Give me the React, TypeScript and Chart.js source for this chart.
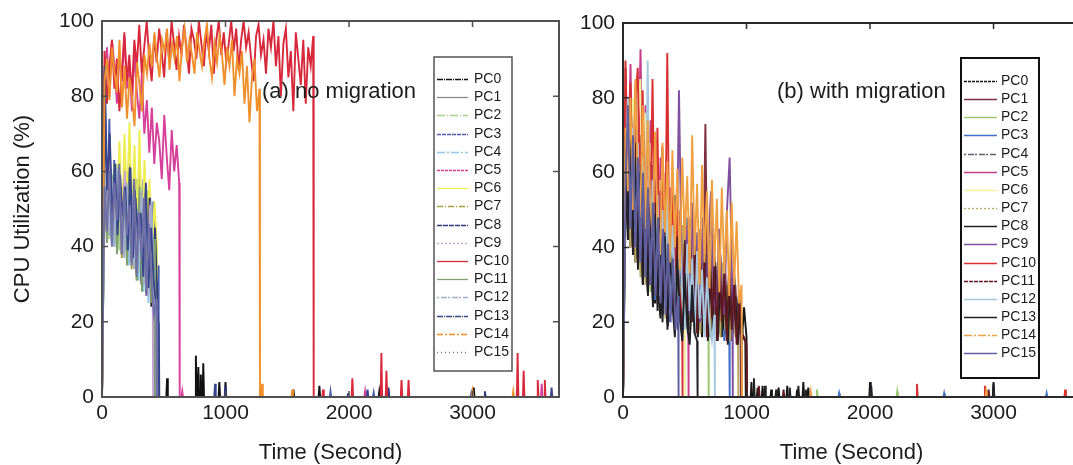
import React, { useEffect, useRef } from 'react';
import { Chart, registerables } from 'chart.js';
Chart.register(...registerables);

// ---------- axes ----------
const X_MAX = 3700;
const xTicks = [0, 1000, 2000, 3000];
const yTicks = [0, 20, 40, 60, 80, 100];
const seriesNames = ['PC0', 'PC1', 'PC2', 'PC3', 'PC4', 'PC5', 'PC6', 'PC7', 'PC8', 'PC9', 'PC10', 'PC11', 'PC12', 'PC13', 'PC14', 'PC15'];

// ---------- panel (a) no migration: active-phase samples (evenly spaced from 0 to end time) ----------
const a0 = [0, 62, 44, 60, 41, 58, 46, 63, 38, 57, 42, 55, 36, 59, 33, 52, 30, 56, 27, 50, 24, 47, 20];
const a1 = [0, 70, 47, 66, 43, 61, 40, 58, 45, 64, 37, 53, 41, 57, 34, 60, 31, 48, 29, 54, 25, 44];
const a2 = [0, 55, 64, 42, 59, 48, 62, 39, 56, 44, 60, 36, 51, 43, 58, 33, 49, 38, 55, 28, 46, 24, 40];
const a3 = [0, 66, 45, 74, 43, 63, 41, 60, 47, 57, 39, 62, 36, 55, 42, 50, 32, 58, 29, 47, 26, 52, 22, 35];
const a4 = [0, 52, 63, 44, 58, 40, 61, 47, 55, 38, 59, 35, 53, 41, 49, 31, 56, 28, 45, 25, 50, 21, 17];
const a5 = [0, 86, 93, 80, 95, 88, 78, 91, 84, 96, 82, 89, 76, 92, 81, 74, 86, 70, 79, 65, 77, 62, 73, 68, 58, 75, 64, 55, 71, 60, 67, 57];
const a6 = [0, 60, 48, 65, 45, 62, 52, 68, 44, 70, 50, 73, 46, 67, 42, 71, 40, 63, 45, 58, 38, 52, 40];
const a7 = [0, 57, 42, 62, 45, 53, 40, 60, 37, 56, 43, 54, 34, 58, 31, 51, 37, 48, 28, 53, 25, 41];
const a8 = [0, 84, 52, 65, 44, 62, 50, 59, 41, 57, 46, 61, 38, 55, 35, 52, 40, 49, 31, 53, 27, 45, 25];
const a9 = [0, 61, 45, 64, 42, 58, 48, 55, 39, 60, 36, 57, 43, 50, 33, 54, 30, 47, 27, 51, 33];
const a10 = [0, 92, 78, 88, 95, 82, 90, 76, 86, 97, 84, 91, 80, 95, 88, 99, 86, 93, 100, 90, 84, 96, 89, 98, 92, 85, 97, 90, 100, 94, 87, 96, 91, 99, 93, 86, 98, 95, 90, 100, 94, 88, 97, 92, 99, 86, 95, 100, 91, 97, 89, 94, 100, 92, 98, 87, 95, 100, 93, 97, 90, 84, 96, 99, 91, 95, 86, 98, 93, 100, 88, 96, 80, 94, 98, 85, 92, 76, 97, 90, 83, 95, 78, 93, 88, 96];
const a11 = [0, 59, 41, 55, 46, 62, 38, 57, 44, 52, 35, 59, 40, 48, 31, 56, 28, 50, 36, 45, 25, 42];
const a12 = [0, 54, 63, 43, 58, 40, 61, 47, 52, 37, 57, 42, 54, 34, 50, 39, 55, 30, 47, 34, 52, 27, 22];
const a13 = [0, 88, 55, 70, 46, 62, 43, 59, 48, 56, 39, 61, 37, 53, 42, 49, 32, 57, 29, 45, 31, 24, 19];
const a14 = [0, 84, 90, 79, 93, 86, 81, 95, 77, 88, 74, 85, 80, 72, 89, 83, 76, 91, 86, 94, 88, 97, 90, 85, 95, 92, 98, 87, 94, 90, 96, 84, 93, 98, 89, 95, 91, 86, 97, 92, 88, 95, 99, 90, 85, 94, 89, 96, 91, 83, 93, 88, 95, 80, 90, 86, 92, 78, 88, 73, 85, 90, 76, 82];
const a15 = [0, 56, 44, 60, 40, 57, 47, 62, 38, 55, 43, 51, 35, 58, 32, 49, 37, 53, 27, 46, 31, 22, 26];
const endA = [440, 430, 445, 455, 435, 625, 445, 420, 450, 410, 1710, 425, 440, 460, 1275, 440];

// late spikes [time, value] for panel (a)
const spA0 = [[527, 5], [760, 11], [780, 8], [800, 6], [820, 9], [950, 4], [1000, 4], [1550, 2], [1760, 3], [2245, 1.5], [3010, 2.5]];
const spA3 = [[1850, 1.5], [2200, 1.2], [2990, 1]];
const spA5 = [[650, 1.5], [2130, 1.5], [3560, 3.5]];
const spA8 = [[1000, 3], [2320, 2.5], [3100, 1.5]];
const spA10 = [[1790, 2], [2027, 5], [2262, 11.7], [2303, 7], [2425, 4.5], [2482, 4.5], [3365, 11.7], [3414, 7], [3528, 4.5], [3585, 4.5]];
const spA13 = [[915, 3.5], [1990, 1], [2150, 2], [3640, 2.5]];
const spA14 = [[1296, 3.5], [1540, 2], [3000, 1.5], [3330, 1.5]];

// ---------- panel (b) with migration ----------
const b0 = [0, 48, 72, 40, 65, 36, 60, 45, 30, 58, 28, 52, 40, 25, 50, 22, 47, 33, 20, 45, 26, 48, 22, 40, 19, 44, 30, 18, 42, 17, 38, 26, 16, 40, 22, 35, 15, 38, 24, 32, 16, 36, 21, 30, 15, 33, 20, 28, 14, 24, 16];
const b1 = [0, 88, 55, 80, 48, 74, 43, 70, 40, 65, 37, 68, 33, 60, 30, 55, 42, 26, 52, 24, 47, 35, 22, 50, 30, 44, 20, 48, 27, 40, 18, 45, 25, 73, 20, 40, 24, 35, 18, 38, 22, 33, 17, 36, 20, 30, 16, 22];
const b2 = [0, 55, 75, 44, 68, 40, 63, 36, 58, 32, 52, 28, 55, 26, 48, 22, 45, 33, 20, 42, 27, 47, 22, 38, 18, 35, 43, 21, 37, 17, 33, 22, 40, 18, 30];
const b3 = [0, 62, 45, 70, 42, 78, 38, 64, 48, 32, 60, 30, 55, 26, 52, 40, 22, 50, 30, 20, 46, 27, 52, 22, 42, 26, 48, 19, 40, 25, 44, 18, 38, 23, 35, 16, 34, 21, 32, 17, 30, 15, 26, 17];
const b4 = [0, 57, 80, 45, 72, 40, 66, 37, 60, 34, 56, 30, 62, 27, 52, 25, 48, 34, 22, 47, 28, 54, 24, 44, 28, 50, 21, 43, 27, 46, 19, 40, 24, 38, 18, 42, 23, 36, 17, 40, 21, 34, 17, 35, 19, 31, 16, 28, 17];
const b5 = [0, 80, 58, 89, 52, 84, 60, 93, 48, 78, 45, 74, 40, 69, 38, 64, 35, 60, 30, 56, 28, 52, 25, 48, 22, 45, 30];
const b6 = [0, 58, 75, 46, 80, 42, 72, 85, 48, 76, 40, 68, 37, 63, 33, 58, 30, 54, 27, 50, 25, 46, 22, 42, 30, 26];
const b7 = [0, 53, 70, 40, 66, 36, 61, 32, 58, 30, 55, 60, 27, 52, 24, 48, 35, 21, 46, 26, 52, 22, 42, 20, 46, 24, 40, 18, 43, 22, 37, 17, 41, 21, 35, 16, 38, 19, 33, 16, 36, 18, 30, 15, 27, 16, 21];
const b8 = [0, 60, 42, 70, 38, 62, 34, 57, 30, 53, 27, 56, 24, 50, 32, 21, 48, 26, 19, 44, 23, 46, 18, 40, 22, 42, 17, 38, 21, 40, 16, 35, 20, 38, 15, 34, 19, 36, 15, 32, 18, 30, 14, 31, 17, 27, 14, 24, 16, 15];
const b9 = [0, 64, 45, 78, 40, 72, 37, 68, 42, 33, 63, 30, 58, 27, 55, 35, 24, 52, 22, 48, 30, 82, 35, 26, 46, 22, 52, 25, 44, 20, 48, 23, 40, 55, 26, 21, 45, 30, 22, 50, 64, 28];
const b10 = [0, 90, 62, 84, 55, 79, 88, 50, 82, 45, 77, 40, 85, 36, 72, 33, 67, 30, 92, 28, 57, 25, 50, 22, 30];
const b11 = [0, 70, 45, 75, 40, 68, 37, 62, 34, 58, 30, 55, 28, 52, 25, 48, 22, 50, 20, 45, 30, 19, 43, 25, 18, 41, 24, 46, 20, 38, 17, 42, 22, 37, 16, 40, 21, 35, 15, 38, 20, 33, 15, 35, 18, 30, 14, 27, 17, 16, 14];
const b12 = [0, 62, 80, 48, 72, 44, 68, 40, 64, 36, 90, 33, 58, 30, 54, 27, 50, 24, 56, 22, 46, 30, 20, 44, 26, 18, 41, 23, 37, 17, 39, 21, 34, 16, 32, 20, 15, 22];
const b13 = [0, 66, 44, 72, 40, 64, 36, 60, 32, 56, 29, 52, 26, 49, 23, 46, 20, 43, 18, 40, 25, 16, 37, 21, 15, 33, 19, 14, 30, 17, 15];
const b14 = [0, 72, 55, 80, 50, 85, 58, 48, 78, 45, 74, 52, 42, 71, 46, 38, 68, 44, 63, 36, 66, 40, 61, 34, 64, 42, 59, 33, 70, 38, 57, 30, 62, 36, 55, 29, 58, 35, 53, 28, 56, 33, 50, 27, 52, 30, 47, 25, 30];
const b15 = [0, 58, 78, 45, 70, 40, 64, 36, 60, 32, 56, 30, 52, 27, 48, 25, 45, 22, 41, 20, 37, 18, 27];
const endB = [1000, 950, 690, 860, 960, 527, 500, 930, 990, 885, 478, 1000, 740, 600, 960, 446];

const spB0 = [[1040, 4], [1090, 2.5], [1130, 3], [1200, 2], [1260, 2.5], [1330, 3], [1410, 2], [1460, 4], [1500, 2.5], [2000, 4], [3000, 4]];
const spB2 = [[1570, 2], [2220, 1.5]];
const spB3 = [[1750, 1], [2600, 1], [3430, 1]];
const spB8 = [[1060, 5], [1150, 3], [1240, 2], [1350, 2.5], [1420, 3], [1480, 2]];
const spB10 = [[2380, 3.5], [2930, 3], [3580, 2]];
const spB11 = [[1100, 3], [1300, 2], [2960, 2]];
const spB13 = [[2010, 3], [3000, 3.5]];
const spB14 = [[1520, 1.5], [2940, 1.5]];

// ---------- styles ----------
const FONT = "'Liberation Sans', Arial, Helvetica, sans-serif";
const TEXT = '#1c1c1c';
const colorsA = ['#111111', '#8a8a8a', '#a8d08d', '#4a5fb0', '#8fc8e8', '#d6409a', '#eeee50', '#a8a040', '#303880', '#c8a0d8', '#d8283c', '#80a070', '#a0b0c8', '#38448c', '#f0902c', '#7070a8'];
const colorsB = ['#151515', '#803040', '#9cc870', '#4070c8', '#606070', '#c83c8c', '#f0f0a0', '#b8a860', '#202020', '#8050a0', '#d83030', '#601820', '#a8c8e0', '#202028', '#f0a040', '#6060a0'];
const dashA = [[6, 1, 1, 1], [], [8, 2, 1, 2], [4, 1], [8, 2, 2, 2], [3, 1], [], [6, 2, 1, 2], [5, 1], [2, 2], [], [], [2, 2, 6, 1], [6, 1, 1, 1], [6, 2, 2, 2], [1, 3]];
const dashB = [[3, 1], [], [], [], [2, 2, 6, 1], [], [], [2, 2], [], [], [], [4, 1], [], [], [8, 2, 2, 2], []];

function buildSeries(values: number[], end: number, spikes: number[][]) {
  const n = values.length;
  const pts = values.map((v, i) => ({ x: (i * end) / (n - 1), y: v }));
  pts.push({ x: end + 4, y: 0 });
  const sorted = [...spikes].sort((p, q) => p[0] - q[0]);
  for (const [t, v] of sorted) {
    pts.push({ x: t - 6, y: 0 }, { x: t, y: v }, { x: t + 6, y: 0 });
  }
  pts.push({ x: X_MAX, y: 0 });
  return pts;
}

type Panel = {
  width: number;
  left: number;
  caLeft: number;
  caRight: number;
  caTop: number;
  caBottom: number;
  values: number[][];
  ends: number[];
  spikes: number[][][];
  colors: string[];
  dashes: number[][];
  label: string;
  labelDx: number;
  labelY: number;
  yTitle?: string;
  frameColor: string;
  legend: { dx0: number; dx1: number; top: number; bottom: number; lineDx0: number; lineDx1: number; textDx: number; y0: number; step: number; border: string; borderWidth: number };
};

const H = 465;

function makeDecor(p: Panel) {
  return {
    id: 'decor',
    afterDatasetsDraw(chart: any) {
      const { ctx, chartArea: ca } = chart;
      const xs = chart.scales.x;
      const ys = chart.scales.y;
      ctx.save();
      // frame
      ctx.strokeStyle = p.frameColor;
      ctx.lineWidth = 2;
      ctx.strokeRect(ca.left, ca.top, ca.right - ca.left, ca.bottom - ca.top);
      // inward ticks
      ctx.lineWidth = 1.5;
      ctx.beginPath();
      for (const v of xTicks) {
        const px = xs.getPixelForValue(v);
        ctx.moveTo(px, ca.bottom);
        ctx.lineTo(px, ca.bottom - 6);
        ctx.moveTo(px, ca.top);
        ctx.lineTo(px, ca.top + 6);
      }
      for (const v of yTicks) {
        const py = ys.getPixelForValue(v);
        ctx.moveTo(ca.left, py);
        ctx.lineTo(ca.left + 6, py);
        ctx.moveTo(ca.right, py);
        ctx.lineTo(ca.right - 6, py);
      }
      ctx.stroke();
      // annotation text
      ctx.fillStyle = TEXT;
      ctx.font = `22px ${FONT}`;
      ctx.textBaseline = 'middle';
      ctx.textAlign = 'left';
      ctx.fillText(p.label, ca.left + p.labelDx, p.labelY);
      // x title
      ctx.textAlign = 'center';
      ctx.fillText('Time (Second)', (ca.left + ca.right) / 2, 453);
      if (p.yTitle) {
        ctx.save();
        ctx.translate(23, (ca.top + ca.bottom) / 2);
        ctx.rotate(-Math.PI / 2);
        ctx.fillText(p.yTitle, 0, 0);
        ctx.restore();
      }
      // legend
      const L = p.legend;
      const bx = ca.left + L.dx0;
      const bw = L.dx1 - L.dx0;
      ctx.fillStyle = '#ffffff';
      ctx.fillRect(bx, L.top, bw, L.bottom - L.top);
      ctx.strokeStyle = L.border;
      ctx.lineWidth = L.borderWidth;
      ctx.strokeRect(bx, L.top, bw, L.bottom - L.top);
      ctx.font = `14px ${FONT}`;
      ctx.textAlign = 'left';
      chart.data.datasets.forEach((ds: any, i: number) => {
        const y = Math.round(L.y0 + i * L.step) + 0.5;
        ctx.strokeStyle = ds.borderColor;
        ctx.lineWidth = 1.3;
        ctx.setLineDash(p.dashes[i]);
        ctx.beginPath();
        ctx.moveTo(ca.left + L.lineDx0, y);
        ctx.lineTo(ca.left + L.lineDx1, y);
        ctx.stroke();
        ctx.setLineDash([]);
        ctx.fillStyle = TEXT;
        ctx.fillText(ds.label, ca.left + L.textDx, y);
      });
      ctx.restore();
    },
  };
}

function PanelChart({ p }: { p: Panel }) {
  const ref = useRef<HTMLCanvasElement>(null);
  useEffect(() => {
    if (!ref.current) return;
    const datasets = seriesNames.map((name, i) => ({
      label: name,
      data: buildSeries(p.values[i], p.ends[i], p.spikes[i]),
      borderColor: p.colors[i],
      backgroundColor: p.colors[i],
      borderWidth: 1.9,
      pointRadius: 0,
      fill: false,
      tension: 0,
      order: 15 - i,
    }));
    const chart = new Chart(ref.current, {
      type: 'line',
      data: { datasets },
      options: {
        animation: false,
        responsive: false,
        parsing: true,
        normalized: true,
        events: [],
        layout: { padding: { left: 0, top: p.caTop, right: p.width - p.caRight, bottom: 0 } },
        plugins: { legend: { display: false }, tooltip: { enabled: false }, title: { display: false } },
        scales: {
          x: {
            type: 'linear',
            min: 0,
            max: X_MAX,
            grid: { display: false, drawTicks: false },
            border: { display: false },
            afterBuildTicks: (s: any) => {
              s.ticks = xTicks.map((v) => ({ value: v }));
            },
            afterFit: (s: any) => {
              s.height = H - p.caBottom;
            },
            ticks: { padding: 4, color: TEXT, font: { size: 21, family: FONT }, maxRotation: 0, autoSkip: false, callback: (v: any) => String(v) },
          },
          y: {
            type: 'linear',
            min: 0,
            max: 100,
            grid: { display: false, drawTicks: false },
            border: { display: false },
            afterBuildTicks: (s: any) => {
              s.ticks = yTicks.map((v) => ({ value: v }));
            },
            afterFit: (s: any) => {
              s.width = p.caLeft;
            },
            ticks: { padding: 8, color: TEXT, font: { size: 21, family: FONT }, callback: (v: any) => String(v) },
          },
        },
      },
      plugins: [makeDecor(p)],
    });
    return () => chart.destroy();
  }, [p]);
  return (
    <canvas
      ref={ref}
      width={p.width}
      height={H}
      style={{ position: 'absolute', left: p.left, top: 0, width: p.width, height: H }}
    />
  );
}

const panelA: Panel = {
  width: 575,
  left: 0,
  caLeft: 102,
  caRight: 559,
  caTop: 21,
  caBottom: 397,
  values: [a0, a1, a2, a3, a4, a5, a6, a7, a8, a9, a10, a11, a12, a13, a14, a15],
  ends: endA,
  spikes: [spA0, [], [], spA3, [], spA5, [], [], spA8, [], spA10, [], [], spA13, spA14, []],
  colors: colorsA,
  dashes: dashA,
  label: '(a) no migration',
  labelDx: 160,
  labelY: 92,
  yTitle: 'CPU Utilization (%)',
  frameColor: '#505050',
  legend: { dx0: 332, dx1: 410, top: 57, bottom: 371, lineDx0: 335, lineDx1: 366, textDx: 372, y0: 79, step: 18.2, border: '#3a3a3a', borderWidth: 1.3 },
};

const panelB: Panel = {
  width: 530,
  left: 570,
  caLeft: 53,
  caRight: 510,
  caTop: 23,
  caBottom: 397,
  values: [b0, b1, b2, b3, b4, b5, b6, b7, b8, b9, b10, b11, b12, b13, b14, b15],
  ends: endB,
  spikes: [spB0, [], spB2, spB3, [], [], [], [], spB8, [], spB10, spB11, [], spB13, spB14, []],
  colors: colorsB,
  dashes: dashB,
  label: '(b) with migration',
  labelDx: 154,
  labelY: 92,
  frameColor: '#2a2a2a',
  legend: { dx0: 338, dx1: 416, top: 58, bottom: 378, lineDx0: 341, lineDx1: 374, textDx: 378, y0: 81, step: 18.15, border: '#111111', borderWidth: 2 },
};

export default function App() {
  return (
    <div style={{ position: 'fixed', left: 0, top: 0, width: 1073, height: H, overflow: 'hidden', background: '#ffffff' }}>
      <PanelChart p={panelA} />
      <PanelChart p={panelB} />
    </div>
  );
}
